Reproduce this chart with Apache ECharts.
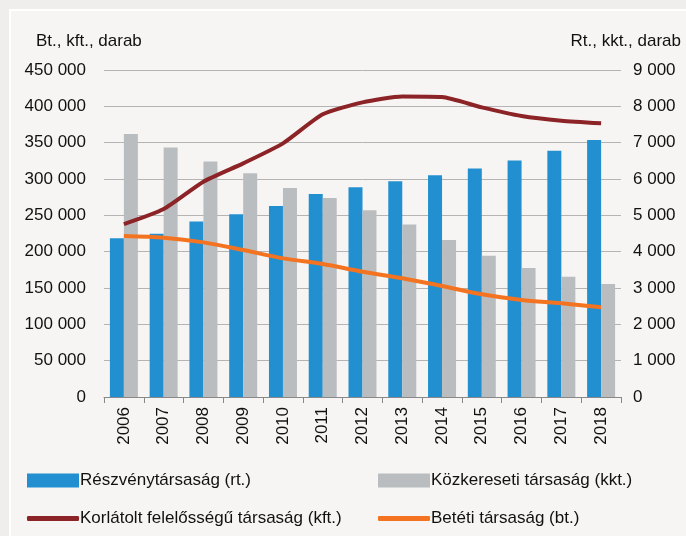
<!DOCTYPE html>
<html>
<head>
<meta charset="utf-8">
<script src="https://cdn.jsdelivr.net/npm/echarts@6/dist/echarts.min.js"></script>
<style>
  html, body { margin: 0; padding: 0; }
  #chart { width: 686px; height: 536px; }
</style>
</head>
<body>
<div id="chart"></div>
<script>
// évek
const years = ['2006', '2007', '2008', '2009', '2010', '2011', '2012', '2013', '2014', '2015', '2016', '2017', '2018']
// jobb tengely (rt., kkt.)
const rt = [4370, 4490, 4830, 5030, 5260, 5590, 5770, 5940, 6100, 6290, 6510, 6780, 7070]
const kkt = [7240, 6870, 6480, 6160, 5750, 5480, 5140, 4750, 4320, 3890, 3550, 3310, 3110]
// bal tengely (kft., bt.)
const kft = [238000, 258700, 296300, 321500, 349000, 389000, 405500, 413700, 412800, 398600, 386700, 380200, 376600]
const bt = [221500, 219200, 212800, 202300, 190800, 183000, 172400, 163300, 152700, 141300, 133500, 128900, 123400]

const font = '"Liberation Sans", Arial, sans-serif'
const fs = 17
const fmt = v => String(v).replace(/\B(?=(\d{3})+(?!\d))/g, ' ')

// egy tételes jelmagyarázat
function leg(name, left, top, line) {
  return {
    left: left, top: top,
    itemWidth: 52, itemHeight: line ? 5 : 14,
    icon: line ? 'roundRect' : 'rect',
    itemGap: 0,
    textStyle: { fontFamily: font, fontSize: fs, color: '#111', padding: [0, 0, 0, -4] },
    data: [name]
  }
}

const myChart = echarts.init(document.getElementById('chart'))
myChart.setOption({
  backgroundColor: '#efeeec',
  animation: false,
  textStyle: { fontFamily: font },
  graphic: [{
    type: 'rect',
    z: -100,
    silent: true,
    shape: { x: 10, y: 10, width: 700, height: 560 },
    style: { fill: '#f6f5f3', stroke: '#ffffff', lineWidth: 2 }
  }],
  title: [
    { text: 'Bt., kft., darab', left: 31, top: 28, textStyle: { fontFamily: font, fontSize: fs, fontWeight: 'normal', color: '#111' } },
    { text: 'Rt., kkt., darab', right: 0, top: 28, textStyle: { fontFamily: font, fontSize: fs, fontWeight: 'normal', color: '#111' } }
  ],
  grid: { left: 104, right: 65, top: 70, bottom: 139 },
  legend: [
    leg('Részvénytársaság (rt.)', 22, 467, false),
    leg('Közkereseti társaság (kkt.)', 373, 467, false),
    leg('Korlátolt felelősségű társaság (kft.)', 22, 505, true),
    leg('Betéti társaság (bt.)', 373, 505, true)
  ],
  xAxis: {
    type: 'category',
    data: years,
    axisLine: { lineStyle: { color: '#888' } },
    axisTick: { show: true, length: 6, interval: 0, lineStyle: { color: '#888' } },
    axisLabel: { rotate: 90, margin: 10, interval: 0, fontSize: fs, color: '#111', fontFamily: font }
  },
  yAxis: [
    {
      type: 'value', min: 0, max: 450000, interval: 50000,
      axisLine: { show: false }, axisTick: { show: false },
      axisLabel: { formatter: fmt, margin: 18, fontSize: fs, color: '#111', fontFamily: font },
      splitLine: { lineStyle: { color: '#b4b4b4', width: 1 } }
    },
    {
      type: 'value', min: 0, max: 9000, interval: 1000,
      axisLine: { show: false }, axisTick: { show: false },
      axisLabel: { formatter: fmt, margin: 12, fontSize: fs, color: '#111', fontFamily: font },
      splitLine: { show: false }
    }
  ],
  series: [
    {
      name: 'Részvénytársaság (rt.)', type: 'bar', yAxisIndex: 1,
      barWidth: 14, barGap: '0%',
      itemStyle: { color: '#2290d0' },
      data: rt
    },
    {
      name: 'Közkereseti társaság (kkt.)', type: 'bar', yAxisIndex: 1,
      barWidth: 14, barGap: '0%',
      itemStyle: { color: '#babdc0' },
      data: kkt
    },
    {
      name: 'Korlátolt felelősségű társaság (kft.)', type: 'line', yAxisIndex: 0,
      symbol: 'none', smooth: 0.2,
      lineStyle: { color: '#8c2326', width: 4 },
      itemStyle: { color: '#8c2326' },
      data: kft
    },
    {
      name: 'Betéti társaság (bt.)', type: 'line', yAxisIndex: 0,
      symbol: 'none', smooth: 0.3,
      lineStyle: { color: '#f47320', width: 4 },
      itemStyle: { color: '#f47320' },
      data: bt
    }
  ]
})
</script>
</body>
</html>
